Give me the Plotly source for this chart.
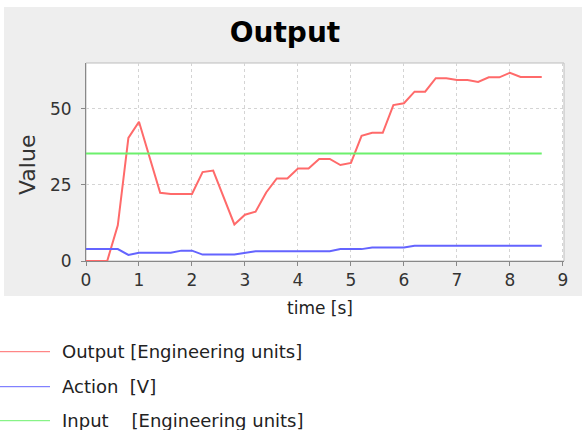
import plotly.graph_objects as go

# ---- data ----
out_t = [0, 0.4, 0.6, 0.8, 1.0, 1.4, 1.6, 2.0, 2.2, 2.4, 2.8, 3.0, 3.2, 3.4, 3.6, 3.8,
         4.0, 4.2, 4.4, 4.6, 4.8, 5.0, 5.2, 5.4, 5.6, 5.8, 6.0, 6.2, 6.4, 6.6, 6.8,
         7.0, 7.2, 7.4, 7.6, 7.8, 8.0, 8.2, 8.6]
out_v = [0, 0, 11.7, 40.4, 45.7, 22.4, 22.0, 22.0, 29.2, 29.7, 12.0, 15.2, 16.2, 22.5,
         27.1, 27.1, 30.4, 30.4, 33.5, 33.5, 31.5, 32.2, 41.1, 42.1, 42.1, 51.2, 51.8,
         55.6, 55.6, 60.0, 60.0, 59.4, 59.4, 58.8, 60.3, 60.3, 61.8, 60.4, 60.4]

act_t = [0, 0.6, 0.8, 1.0, 1.6, 1.8, 2.0, 2.2, 2.8, 3.0, 3.2, 4.6, 4.8, 5.2, 5.4, 6.0, 6.2, 8.6]
act_v = [3.9, 3.9, 2.0, 2.7, 2.7, 3.4, 3.4, 2.1, 2.1, 2.7, 3.2, 3.2, 3.9, 3.9, 4.4, 4.4, 5.0, 5.0]

inp_t = [0, 8.6]
inp_v = [35.3, 35.3]

x_ticks = [0, 1, 2, 3, 4, 5, 6, 7, 8, 9]
y_ticks = [0, 25, 50]

names = ["Output\u00a0[Engineering units]", "Action\u00a0\u00a0[V]",
         "Input\u00a0\u00a0\u00a0\u00a0[Engineering units]"]
colors = ["#ff6a6a", "#6464ff", "#6cf06c"]

# ---- layout geometry ----
W, H = 582, 430
ML, MR, MT, MB = 86, 18, 63, 169
PW = W - ML - MR
PH = H - MT - MB


def px(x):
    return (x - ML) / PW


def py(y):
    return (H - MB - y) / PH


FONT = "DejaVu Sans"

fig = go.Figure()
for t, v, c in zip([out_t, act_t, inp_t], [out_v, act_v, inp_v], colors):
    fig.add_trace(go.Scatter(x=t, y=v, mode="lines", line=dict(color=c, width=2),
                             showlegend=False, hoverinfo="skip"))

shapes = [
    dict(type="rect", xref="paper", yref="paper", x0=px(4), x1=px(582), y0=py(296), y1=py(7),
         fillcolor="#eeeeee", line=dict(width=0), layer="below"),
    dict(type="rect", xref="paper", yref="paper", x0=0, x1=1, y0=0, y1=1,
         fillcolor="white", line=dict(color="#bdbdbd", width=1), layer="below"),
]
annotations = [
    dict(text="time [s]", xref="paper", yref="paper", x=px(319.5), y=py(308),
         xanchor="center", yanchor="middle", showarrow=False,
         font=dict(family=FONT, size=17, color="#222")),
    dict(text="Value", xref="paper", yref="paper", x=px(27), y=py(165), textangle=-90,
         xanchor="center", yanchor="middle", showarrow=False,
         font=dict(family=FONT, size=22, color="#333")),
]
leg_y = [351.7, 386.7, 420.7]
for name, c, ly in zip(names, colors, leg_y):
    shapes.append(dict(type="line", xref="paper", yref="paper", x0=px(0), x1=px(50),
                       y0=py(ly), y1=py(ly), line=dict(color=c, width=1)))
    annotations.append(dict(text=name, xref="paper", yref="paper", x=px(60), y=py(ly - 0.5),
                            xanchor="left", yanchor="middle", showarrow=False,
                            font=dict(family=FONT, size=18, color="#222")))

fig.update_layout(
    width=W, height=H,
    margin=dict(l=ML, r=MR, t=MT, b=MB, pad=0),
    paper_bgcolor="white", plot_bgcolor="white",
    title=dict(text="Output", xref="container", yref="container", x=285 / W, y=1 - 31.7 / H,
               xanchor="center", yanchor="middle",
               font=dict(family=FONT, size=28, color="black", weight="bold")),
    shapes=shapes, annotations=annotations,
    showlegend=False,
    xaxis=dict(range=[0, 9.02], tickvals=x_ticks, ticks="outside", ticklen=4,
               tickcolor="#888", showline=True, linecolor="#888", linewidth=1,
               showgrid=True, gridcolor="#d4d4d4", griddash="3px,3px", zeroline=False,
               tickfont=dict(family=FONT, size=17, color="#333"), ticklabelstandoff=0,
               fixedrange=True),
    yaxis=dict(range=[0, 65], tickvals=y_ticks, ticks="outside", ticklen=4,
               tickcolor="#888", showline=True, linecolor="#888", linewidth=1,
               showgrid=True, gridcolor="#d4d4d4", griddash="3px,3px", zeroline=False,
               tickfont=dict(family=FONT, size=17, color="#333"), ticklabelstandoff=6,
               fixedrange=True),
)

fig.write_html("out.html")
